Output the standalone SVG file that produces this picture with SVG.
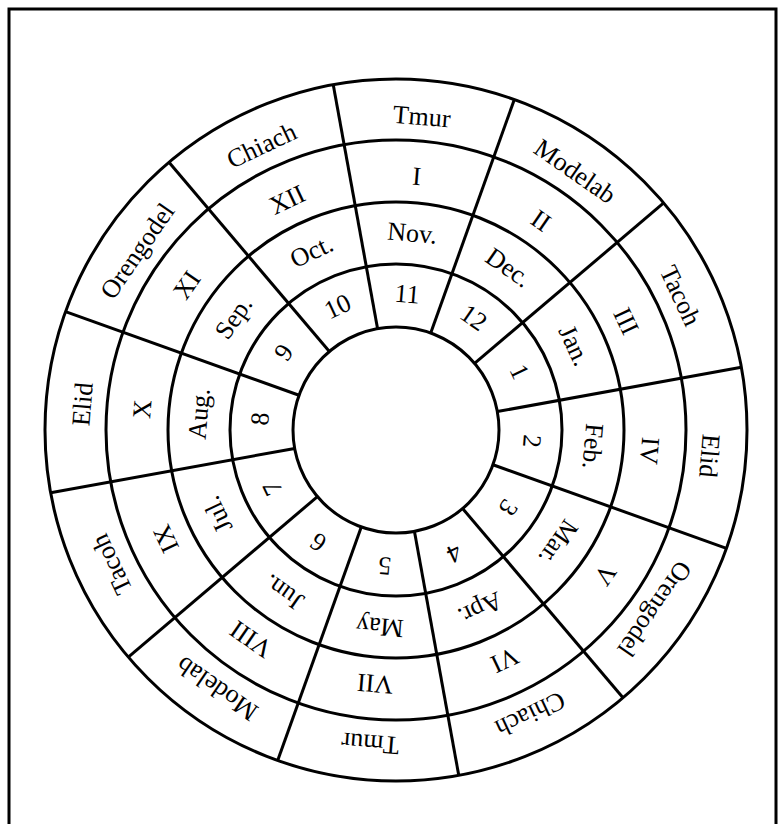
<svg xmlns="http://www.w3.org/2000/svg" width="783" height="824" viewBox="0 0 783 824">
<style>
.ln{fill:none;stroke:#000;stroke-width:3}
.t{font-family:"Liberation Serif","Times New Roman",serif;font-size:26px;fill:#000;text-anchor:middle}
</style>
<rect x="0" y="0" width="783" height="824" fill="#fff"/>
<path class="ln" d="M9,830 V9 H776 V830"/>
<g id="rings" class="ln">
<circle cx="396" cy="430" r="351"/>
<circle cx="396" cy="430" r="290"/>
<circle cx="396" cy="430" r="228"/>
<circle cx="396" cy="430" r="166"/>
<circle cx="396" cy="430" r="103"/>
</g>
<g id="dividers" class="ln">
<line x1="396" y1="327" x2="396" y2="79" transform="rotate(-10.3 396 430)"/>
<line x1="396" y1="327" x2="396" y2="79" transform="rotate(19.7 396 430)"/>
<line x1="396" y1="327" x2="396" y2="79" transform="rotate(49.7 396 430)"/>
<line x1="396" y1="327" x2="396" y2="79" transform="rotate(79.7 396 430)"/>
<line x1="396" y1="327" x2="396" y2="79" transform="rotate(109.7 396 430)"/>
<line x1="396" y1="327" x2="396" y2="79" transform="rotate(139.7 396 430)"/>
<line x1="396" y1="327" x2="396" y2="79" transform="rotate(169.7 396 430)"/>
<line x1="396" y1="327" x2="396" y2="79" transform="rotate(199.7 396 430)"/>
<line x1="396" y1="327" x2="396" y2="79" transform="rotate(229.7 396 430)"/>
<line x1="396" y1="327" x2="396" y2="79" transform="rotate(259.7 396 430)"/>
<line x1="396" y1="327" x2="396" y2="79" transform="rotate(289.7 396 430)"/>
<line x1="396" y1="327" x2="396" y2="79" transform="rotate(319.7 396 430)"/>
</g>
<g id="sector1" class="t" transform="rotate(4.7 396 430)"><text x="396" y="124">Tmur</text><text x="396" y="184">I</text><text x="396" y="241">Nov.</text><text x="396" y="302">11</text></g>
<g id="sector2" class="t" transform="rotate(34.7 396 430)"><text x="396" y="124">Modelab</text><text x="396" y="184">II</text><text x="396" y="241">Dec.</text><text x="396" y="302">12</text></g>
<g id="sector3" class="t" transform="rotate(64.7 396 430)"><text x="396" y="124">Tacoh</text><text x="396" y="184">III</text><text x="396" y="241">Jan.</text><text x="396" y="302">1</text></g>
<g id="sector4" class="t" transform="rotate(94.7 396 430)"><text x="396" y="124">Elid</text><text x="396" y="184">IV</text><text x="396" y="241">Feb.</text><text x="396" y="302">2</text></g>
<g id="sector5" class="t" transform="rotate(124.7 396 430)"><text x="396" y="124">Orengodel</text><text x="396" y="184">V</text><text x="396" y="241">Mar.</text><text x="396" y="302">3</text></g>
<g id="sector6" class="t" transform="rotate(154.7 396 430)"><text x="396" y="124">Chiach</text><text x="396" y="184">VI</text><text x="396" y="241">Apr.</text><text x="396" y="302">4</text></g>
<g id="sector7" class="t" transform="rotate(184.7 396 430)"><text x="396" y="124">Tmur</text><text x="396" y="184">VII</text><text x="396" y="241">May</text><text x="396" y="302">5</text></g>
<g id="sector8" class="t" transform="rotate(214.7 396 430)"><text x="396" y="124">Modelab</text><text x="396" y="184">VIII</text><text x="396" y="241">Jun.</text><text x="396" y="302">6</text></g>
<g id="sector9" class="t" transform="rotate(244.7 396 430)"><text x="396" y="124">Tacoh</text><text x="396" y="184">IX</text><text x="396" y="241">Jul.</text><text x="396" y="302">7</text></g>
<g id="sector10" class="t" transform="rotate(274.7 396 430)"><text x="396" y="124">Elid</text><text x="396" y="184">X</text><text x="396" y="241">Aug.</text><text x="396" y="302">8</text></g>
<g id="sector11" class="t" transform="rotate(304.7 396 430)"><text x="396" y="124">Orengodel</text><text x="396" y="184">XI</text><text x="396" y="241">Sep.</text><text x="396" y="302">9</text></g>
<g id="sector12" class="t" transform="rotate(334.7 396 430)"><text x="396" y="124">Chiach</text><text x="396" y="184">XII</text><text x="396" y="241">Oct.</text><text x="396" y="302">10</text></g>
</svg>
